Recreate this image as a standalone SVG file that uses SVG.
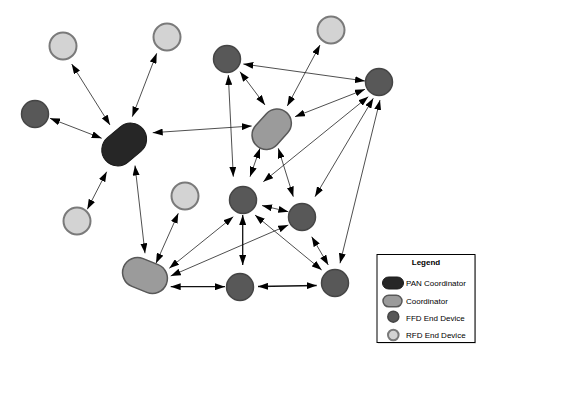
<svg xmlns="http://www.w3.org/2000/svg" width="563" height="405" viewBox="0 0 563 405">
<defs>
<marker id="ah" markerUnits="userSpaceOnUse" markerWidth="10" markerHeight="7" refX="10" refY="3.5" orient="auto-start-reverse" viewBox="0 0 10 7">
<path d="M0,0 L10,3.5 L0,7 z" fill="#000"/>
</marker>
</defs>
<style>
.e{stroke:#222;stroke-width:0.8;fill:none;marker-start:url(#ah);marker-end:url(#ah)}
.eb{stroke:#111;stroke-width:1.3}
.ffd{fill:#585858;stroke:#454545;stroke-width:1.5}
.rfd{fill:#d3d3d3;stroke:#7a7a7a;stroke-width:2}
.pan{fill:#262626;stroke:#1a1a1a;stroke-width:1}
.crd{fill:#9b9b9b;stroke:#585858;stroke-width:1.5}
.lt{font-family:"Liberation Sans",Arial,sans-serif;font-size:8px;fill:#000}
</style>
<rect width="563" height="405" fill="#fff"/>
<g id="connectors">
<line class="e" x1="71.7" y1="64" x2="110" y2="125"/>
<line class="e" x1="156.7" y1="53.3" x2="132.3" y2="116.7"/>
<line class="e" x1="50" y1="118.3" x2="101.7" y2="138.3"/>
<line class="e" x1="152.7" y1="132.7" x2="251.7" y2="126"/>
<line class="e" x1="106.7" y1="171.7" x2="87.3" y2="209.3"/>
<line class="e" x1="135" y1="165.5" x2="145" y2="253.3"/>
<line class="e" x1="178.3" y1="213.3" x2="156" y2="263.3"/>
<line class="e" x1="243.3" y1="64" x2="365" y2="81"/>
<line class="e" x1="240" y1="71.7" x2="265" y2="105"/>
<line class="e" x1="228.3" y1="75" x2="233.3" y2="176.7"/>
<line class="e" x1="320" y1="45" x2="287.3" y2="106"/>
<line class="e" x1="365" y1="89.3" x2="295" y2="116.7"/>
<line class="e" x1="368.3" y1="96.7" x2="263.3" y2="181.7"/>
<line class="e" x1="373.3" y1="98.3" x2="315" y2="196.7"/>
<line class="e" x1="380" y1="100" x2="340" y2="263.3"/>
<line class="e" x1="260" y1="148.3" x2="250" y2="176.7"/>
<line class="e" x1="278.3" y1="148.3" x2="293.3" y2="196.7"/>
<line class="e" x1="262" y1="205.5" x2="288.3" y2="211.7"/>
<line class="e" x1="233.3" y1="216.7" x2="169.3" y2="268.3"/>
<line class="e" x1="288.3" y1="225" x2="170.7" y2="276"/>
<line class="e eb" x1="242.7" y1="215" x2="242.7" y2="265"/>
<line class="e" x1="255" y1="215" x2="321.7" y2="270"/>
<line class="e" x1="311.7" y1="236.7" x2="328.3" y2="265"/>
<line class="e eb" x1="170.7" y1="286.7" x2="225" y2="286.7"/>
<line class="e eb" x1="258" y1="286.5" x2="316.7" y2="285.5"/>
</g>
<g id="rfd1"><circle class="rfd" cx="63" cy="46" r="13.5"/></g>
<g id="rfd2"><circle class="rfd" cx="167" cy="37" r="13.5"/></g>
<g id="ffd-left"><circle class="ffd" cx="35" cy="114" r="13.5"/></g>
<g id="pan"><rect class="pan" x="-24.4" y="-16" width="48.8" height="32" rx="16" transform="translate(124.2,144.5) rotate(-40)"/></g>
<g id="rfd-bl"><circle class="rfd" cx="77" cy="221" r="13.5"/></g>
<g id="rfd-mid"><circle class="rfd" cx="185" cy="196" r="13.5"/></g>
<g id="coord-bottom"><rect class="crd" x="-23" y="-15" width="46" height="30" rx="15" transform="translate(145,275.5) rotate(22)"/></g>
<g id="ffd-top"><circle class="ffd" cx="227" cy="59" r="13.5"/></g>
<g id="rfd-tr"><circle class="rfd" cx="331" cy="30" r="13.5"/></g>
<g id="ffd-right"><circle class="ffd" cx="379" cy="82" r="13.5"/></g>
<g id="coord-top"><rect class="crd" x="-22.3" y="-14.3" width="44.6" height="28.6" rx="14.3" transform="translate(271.7,129.2) rotate(-48)"/></g>
<g id="ffd-center"><circle class="ffd" cx="243" cy="200" r="13.5"/></g>
<g id="ffd-midright"><circle class="ffd" cx="302" cy="217" r="13.5"/></g>
<g id="ffd-bc"><circle class="ffd" cx="240" cy="287" r="13.5"/></g>
<g id="ffd-br"><circle class="ffd" cx="335" cy="283" r="13.5"/></g>
<g id="legend">
<rect x="378" y="255.5" width="98" height="88" fill="#999" opacity="0.5"/>
<rect x="377" y="254.5" width="98" height="88" fill="#fff" stroke="#000" stroke-width="1"/>
<text class="lt" x="426" y="265" text-anchor="middle" font-weight="bold">Legend</text>
<rect class="pan" x="382.5" y="277" width="21" height="12" rx="6"/>
<text class="lt" x="406" y="285.5">PAN Coordinator</text>
<rect class="crd" x="383" y="295.3" width="19" height="11.5" rx="5.75" stroke-width="1"/>
<text class="lt" x="406" y="304">Coordinator</text>
<circle class="ffd" cx="393.3" cy="316.7" r="5.5" stroke-width="1"/>
<text class="lt" x="406" y="320.5">FFD End Device</text>
<circle class="rfd" cx="393.3" cy="335" r="5.3" stroke-width="1.5"/>
<text class="lt" x="406" y="338">RFD End Device</text>
</g>
</svg>
